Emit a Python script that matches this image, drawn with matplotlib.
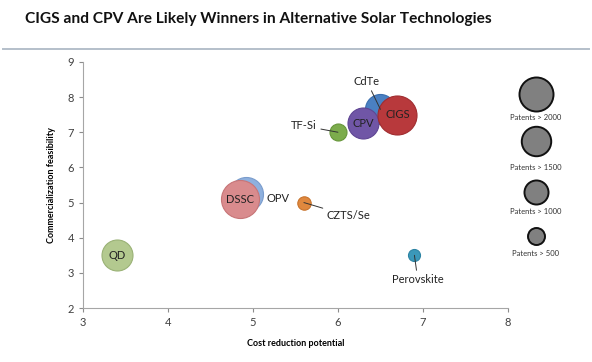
import matplotlib
matplotlib.use("Agg")
import matplotlib.pyplot as plt
from matplotlib.lines import Line2D

plt.rcParams['font.family'] = ['Lato', 'DejaVu Sans']

# data
techs = ['QD', 'OPV', 'DSSC', 'CZTS/Se', 'Perovskite', 'TF-Si', 'CdTe', 'CPV', 'CIGS']
cost_reduction = [3.4, 4.92, 4.85, 5.6, 6.9, 6.0, 6.5, 6.3, 6.7]
feasibility = [3.5, 5.25, 5.1, 5.0, 3.5, 7.0, 7.65, 7.25, 7.5]
patents = [1660, 2000, 2500, 310, 250, 500, 1560, 1660, 2630]
colors = ['#b3c98f', '#8eb0de', '#d98b8d', '#e0883e', '#3b98b9',
          '#7cac4c', '#4a80c2', '#7056a6', '#b8393c']
edges = ['#9ab276', '#7a9ccc', '#c77577', '#c8732c', '#2d84a4',
         '#66963a', '#3a6eae', '#5f4694', '#a02c2f']

legend_patents = [2000, 1500, 1000, 500]
legend_labels = ['Patents > 2000', 'Patents > 1500', 'Patents > 1000', 'Patents > 500']

SCALE = 0.3  # marker area (pt^2) per patent

fig = plt.figure(figsize=(5.92, 3.62), dpi=100)
fig.patch.set_facecolor('white')

fig.text(0.042, 0.948, 'CIGS and CPV Are Likely Winners in Alternative Solar Technologies',
         fontsize=11.2, fontweight='bold', ha='left', va='center', color='#111111')
fig.add_artist(Line2D([0.005, 0.995], [0.865, 0.865], color='#b4bfca', lw=1.4))

ax = fig.add_axes([0.140, 0.149, 0.718, 0.680])
for x, y, p, c, e in zip(cost_reduction, feasibility, patents, colors, edges):
    ax.scatter(x, y, s=p * SCALE, color=c, edgecolors=e, linewidths=0.8, zorder=3)

ax.set_xlim(3, 8)
ax.set_ylim(2, 9)
ax.set_xticks(range(3, 9))
ax.set_yticks(range(2, 10))
ax.tick_params(colors='#8c8c8c', labelcolor='#404040', labelsize=8, length=3, width=0.8)
for side in ['top', 'right']:
    ax.spines[side].set_visible(False)
for side in ['left', 'bottom']:
    ax.spines[side].set_color('#a6a6a6')
ax.set_xlabel('Cost reduction potential', fontsize=6.5, fontweight='bold', labelpad=8)
ax.set_ylabel('Commercialization feasibility', fontsize=6.5, fontweight='bold', labelpad=8)

# labels inside bubbles
for name in ['QD', 'DSSC', 'CPV', 'CIGS']:
    i = techs.index(name)
    ax.text(cost_reduction[i], feasibility[i], name, ha='center', va='center',
            fontsize=8, color='#222222', zorder=5)
ax.text(5.16, 5.12, 'OPV', ha='left', va='center', fontsize=8, color='#222222', zorder=5)

# labels with leader lines
callouts = {
    'CdTe': (6.34, 8.45),
    'TF-Si': (5.6, 7.18),
    'CZTS/Se': (5.87, 4.62),
    'Perovskite': (6.94, 2.8),
}
for name, (tx, ty) in callouts.items():
    i = techs.index(name)
    ax.annotate(name, xy=(cost_reduction[i], feasibility[i]), xytext=(tx, ty),
                fontsize=8, color='#222222', ha='left' if name == 'CZTS/Se' else 'center',
                va='center', zorder=6,
                arrowprops=dict(arrowstyle='-', color='#333333', lw=0.7,
                                shrinkA=1, shrinkB=0))

# size legend
leg_y = [1 - 94 / 362, 1 - 141 / 362, 1 - 192 / 362, 1 - 235.5 / 362]
txt_y = [1 - 118 / 362, 1 - 168 / 362, 1 - 212 / 362, 1 - 253 / 362]
for p, lab, cy, ty in zip(legend_patents, legend_labels, leg_y, txt_y):
    fig.add_artist(Line2D([536 / 592], [cy], marker='o', linestyle='none',
                          markersize=(p * SCALE) ** 0.5, markerfacecolor='#808080',
                          markeredgecolor='#111111', markeredgewidth=1.4))
    fig.text(536 / 592, ty, lab, fontsize=5.5, ha='center', va='center', color='#333333')

fig.savefig('out.png', dpi=100)
